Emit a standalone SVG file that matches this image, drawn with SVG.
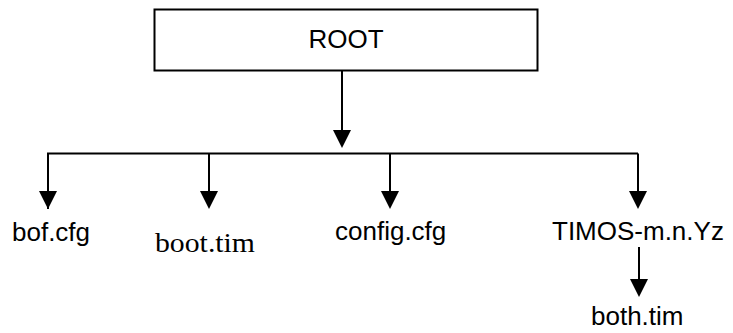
<svg xmlns="http://www.w3.org/2000/svg" width="733" height="333" viewBox="0 0 733 333">
<style>
.ln{stroke:#000;stroke-width:2;fill:none}
.arr{marker-end:url(#ah)}
.t{font-family:"Liberation Sans",Arial,sans-serif;font-size:26px;fill:#000}
.s{font-family:"Liberation Serif","Times New Roman",serif;font-size:28px;fill:#000}
</style>
<defs>
<marker id="ah" viewBox="0 0 18 18" markerUnits="userSpaceOnUse" markerWidth="18" markerHeight="18" refX="12" refY="9" orient="auto">
<path d="M0,0 L18,9 L0,18 z" fill="#000"/>
</marker>
</defs>
<g id="root">
<rect x="154.5" y="9.5" width="383" height="61" fill="#fff" stroke="#000" stroke-width="2"/>
<text class="t" x="346" y="48" text-anchor="middle">ROOT</text>
</g>
<g id="connectors">
<line class="ln arr" x1="342" y1="71" x2="342" y2="142"/>
<polyline class="ln" points="48,209 48,153.5 638,153.5"/>
<line class="ln arr" x1="48" y1="153.5" x2="48" y2="203"/>
<line class="ln arr" x1="209" y1="153.5" x2="209" y2="203"/>
<line class="ln arr" x1="390" y1="153.5" x2="390" y2="203"/>
<line class="ln arr" x1="638" y1="153.5" x2="638" y2="203"/>
<line class="ln arr" x1="639" y1="247" x2="639" y2="291"/>
</g>
<g id="bof"><text class="t" x="12" y="241">bof.cfg</text></g>
<g id="boot"><text class="s" x="155" y="252" textLength="100" lengthAdjust="spacingAndGlyphs">boot.tim</text></g>
<g id="config"><text class="t" x="335" y="240">config.cfg</text></g>
<g id="timos"><text class="t" x="552" y="240">TIMOS-m.n.Yz</text></g>
<g id="both"><text class="t" x="591" y="325">both.tim</text></g>
</svg>
